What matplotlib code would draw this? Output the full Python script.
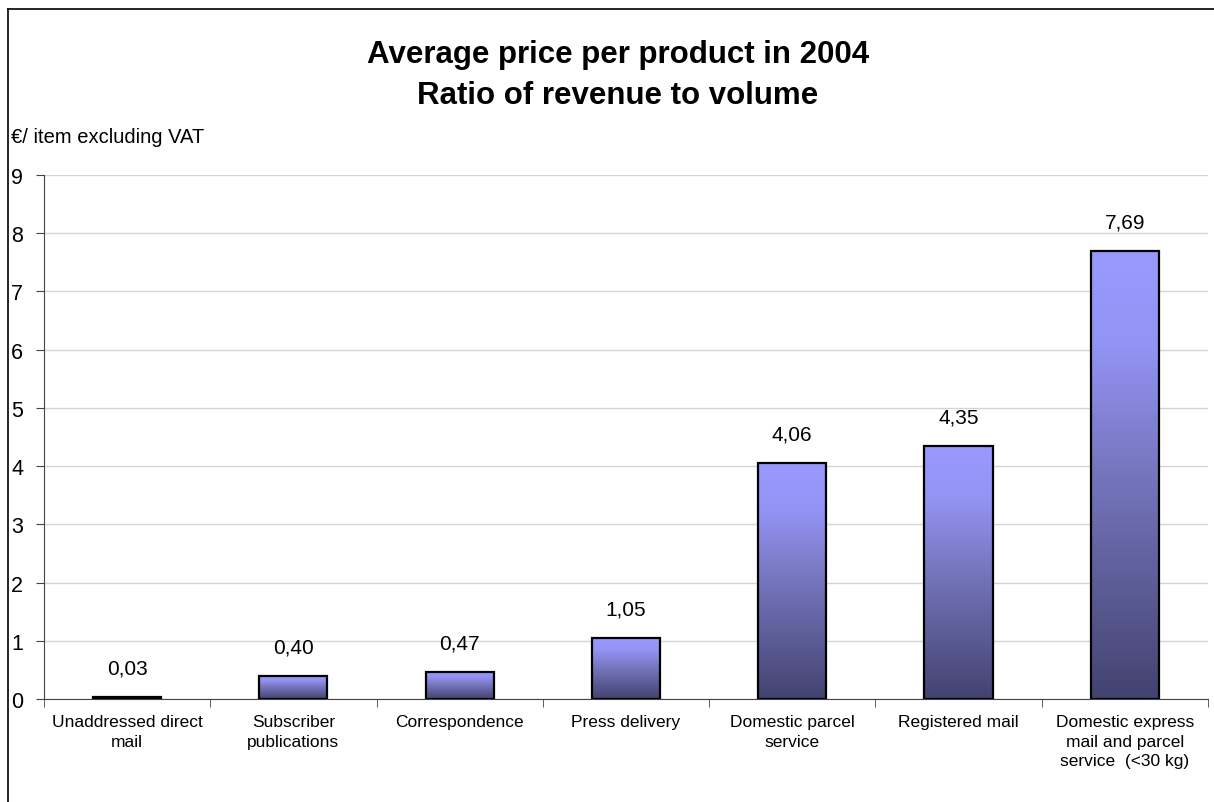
import matplotlib as mpl
mpl.use('Agg')
import matplotlib.pyplot as plt
import numpy as np
from matplotlib.colors import LinearSegmentedColormap
from matplotlib.lines import Line2D

plt.rcParams['font.family'] = ['Liberation Sans', 'DejaVu Sans']

categories = ['Unaddressed direct\nmail', 'Subscriber\npublications', 'Correspondence',
              'Press delivery', 'Domestic parcel\nservice', 'Registered mail',
              'Domestic express\nmail and parcel\nservice  (<30 kg)']
values = [0.03, 0.40, 0.47, 1.05, 4.06, 4.35, 7.69]
labels = ['0,03', '0,40', '0,47', '1,05', '4,06', '4,35', '7,69']

fig = plt.figure(figsize=[12.14, 8.03], dpi=100)
ax = fig.add_axes([0.0362, 0.128, 0.9588, 0.653])

cmap = LinearSegmentedColormap.from_list(
    'bar', [(0.0, '#434370'), (0.5, '#7575bd'), (0.8, '#9494f6'), (1.0, '#9999ff')])
grad = np.linspace(0, 1, 256).reshape(-1, 1)

x = np.arange(len(values))
width = 0.41
bars = ax.bar(x, values, width=width, color='none', edgecolor='black', linewidth=1.6, zorder=3)
for b in bars:
    x0, y0 = b.get_x(), b.get_y()
    im = ax.imshow(grad, cmap=cmap, aspect='auto', origin='lower',
                   extent=[x0, x0 + b.get_width(), y0, y0 + b.get_height()], zorder=2)
    im.set_clip_path(b)

for xi, v, lab in zip(x, values, labels):
    ax.text(xi, v + 0.5, lab, ha='center', va='center', fontsize=15)

ax.set_xlim(-0.5, len(values) - 0.5)
ax.set_ylim(0, 9)
ax.set_yticks(range(0, 10))
ax.yaxis.grid(True, color='#d4d4d4', linewidth=1.0, zorder=0)
ax.set_axisbelow(True)
for s in ['top', 'right']:
    ax.spines[s].set_visible(False)
ax.spines['left'].set_color('#444444')
ax.spines['bottom'].set_color('#444444')
ax.tick_params(axis='y', direction='out', length=6, labelsize=15.5, pad=9, color='#444444')
ax.set_xticks(np.arange(len(values) + 1) - 0.5, minor=True)
ax.set_xticks(x)
ax.set_xticklabels(categories, fontsize=12.5, linespacing=1.35)
ax.tick_params(axis='x', which='major', length=0, pad=11)
ax.tick_params(axis='x', which='minor', length=6, direction='out', color='#444444')

fig.text(0.509, 0.931, 'Average price per product in 2004', ha='center', va='center',
         fontsize=22.5, fontweight='bold')
fig.text(0.509, 0.881, 'Ratio of revenue to volume', ha='center', va='center',
         fontsize=22.5, fontweight='bold')
fig.text(0.009, 0.829, '€/ item excluding VAT', ha='left', va='center', fontsize=14.5)

fig.add_artist(Line2D([0.0066, 0.0066], [0, 0.9875], color='black', linewidth=1.2))
fig.add_artist(Line2D([0.0066, 1.0], [0.9875, 0.9875], color='black', linewidth=1.2))

plt.savefig('out.png', dpi=100)
plt.close(fig)
